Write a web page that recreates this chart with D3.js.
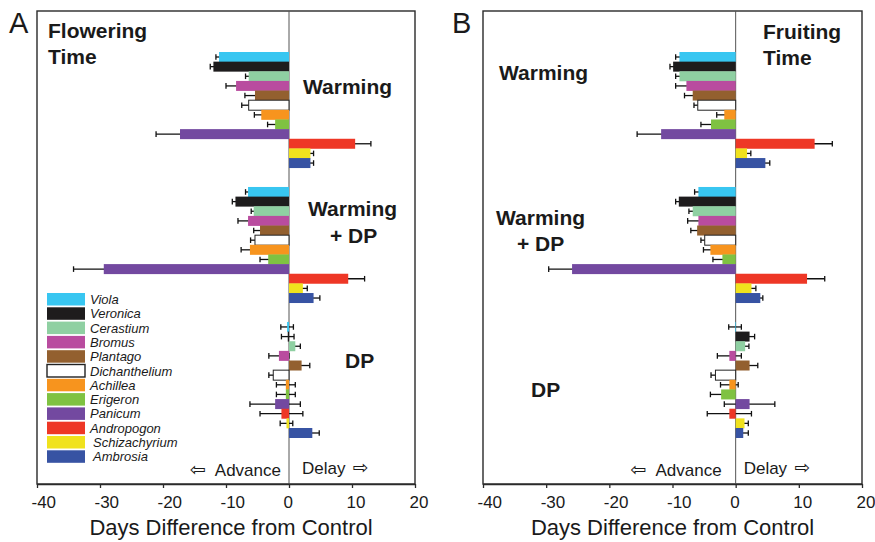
<!DOCTYPE html>
<html>
<head>
<meta charset="utf-8">
<script src="https://cdn.jsdelivr.net/npm/d3@7/dist/d3.min.js"></script>
<style>
  html, body { margin: 0; padding: 0; background: #fff; }
  svg text { font-family: "Liberation Sans", Arial, Helvetica, sans-serif; fill: #1a1a1a; }
</style>
</head>
<body>
<svg id="chart" width="875" height="542"></svg>
<script>
(() => {

// species, in plotting order (top to bottom inside each group)
const species = ["Viola", "Veronica", "Cerastium", "Bromus", "Plantago", "Dichanthelium",
                 "Achillea", "Erigeron", "Panicum", "Andropogon", "Schizachyrium", "Ambrosia"]
const speciesColors = ["#38c6f1", "#1e1c1d", "#8fd0a2", "#b94c9f", "#93602f", "#ffffff",
                       "#f7941e", "#7fc242", "#7349a0", "#ee3726", "#f0e21d", "#3753a3"]

const groups = ["Warming", "Warming + DP", "DP"]
const xTicks = [-40, -30, -20, -10, 0, 10, 20]

// A: flowering time, days difference from control
const flowerWarm    = [-11.1, -12.0, -6.4, -8.4, -5.4, -6.4, -4.4, -2.2, -17.3, 10.5, 3.4, 3.4]
const flowerWarmErr = [0.5, 0.5, 0.5, 1.6, 1.6, 1.1, 1.1, 1.2, 3.8, 2.5, 0.5, 0.5]
const flowerWDP     = [-6.5, -8.5, -5.6, -6.5, -4.6, -5.4, -6.2, -3.3, -29.4, 9.4, 2.2, 3.9]
const flowerWDPErr  = [0.4, 0.5, 0.4, 1.6, 1.0, 0.7, 1.4, 1.3, 4.8, 2.6, 0.7, 1.0]
const flowerDP      = [-0.3, -0.2, 1.0, -1.6, 2.0, -2.5, -0.5, -0.5, -2.2, -1.2, -0.4, 3.7]
const flowerDPErr   = [1.0, 1.0, 0.8, 1.6, 1.3, 0.7, 1.5, 1.5, 4.0, 3.4, 1.0, 1.1]

// B: fruiting time
const fruitWarm    = [-8.9, -9.9, -8.9, -7.8, -6.8, -6.0, -1.8, -3.9, -11.8, 12.5, 1.8, 4.7]
const fruitWarmErr = [0.6, 0.5, 0.6, 1.7, 1.3, 0.6, 1.2, 1.6, 3.8, 2.8, 0.6, 0.7]
const fruitWDP     = [-5.9, -9.0, -6.8, -5.9, -6.1, -4.9, -4.0, -2.1, -25.9, 11.3, 2.5, 3.9]
const fruitWDPErr  = [0.6, 0.5, 0.6, 1.7, 1.0, 0.6, 1.1, 1.5, 3.7, 2.8, 0.7, 0.4]
const fruitDP      = [-0.1, 2.2, 1.5, -1.0, 2.2, -3.2, -1.0, -2.3, 2.2, -1.0, 1.4, 1.2]
const fruitDPErr   = [1.0, 0.8, 0.6, 1.9, 1.3, 0.7, 1.4, 1.7, 4.0, 3.5, 0.6, 0.8]

const svg = d3.select("#chart")

// row index -> y centre (12 rows per group, 2 empty rows between groups)
const y = d3.scaleLinear().domain([0, 39]).range([57, 433])
const barH = 10
const top = 11, bottom = 484

function rows(vals, errs, g) {
    return vals.map((v, i) => ({ v: v, e: errs[i], i: i, row: g * 14 + i }))
}

function panel(cfg) {
    const x = d3.scaleLinear().domain([-40, 20]).range([cfg.left, cfg.right])
    const g = svg.append("g")

    // frame
    g.append("rect")
     .attr("x", cfg.left).attr("y", top)
     .attr("width", cfg.right - cfg.left).attr("height", bottom - top)
     .attr("fill", "none").attr("stroke", "#2a2a2a").attr("stroke-width", 1.4)

    // zero line
    g.append("line")
     .attr("x1", x(0)).attr("x2", x(0)).attr("y1", top).attr("y2", bottom)
     .attr("stroke", "#555").attr("stroke-width", 1)

    const data = [].concat(rows(cfg.warm, cfg.warmErr, 0),
                           rows(cfg.wdp, cfg.wdpErr, 1),
                           rows(cfg.dp, cfg.dpErr, 2))

    // error bars behind the bars
    const err = g.selectAll(".err").data(data).enter().append("g").attr("class", "err")
                 .attr("stroke", "#111").attr("stroke-width", 1.3)
    err.append("line")
       .attr("x1", d => x(d.v - d.e)).attr("x2", d => x(d.v + d.e))
       .attr("y1", d => y(d.row)).attr("y2", d => y(d.row))
    err.append("line")
       .attr("x1", d => x(d.v - d.e)).attr("x2", d => x(d.v - d.e))
       .attr("y1", d => y(d.row) - 2.8).attr("y2", d => y(d.row) + 2.8)
    err.append("line")
       .attr("x1", d => x(d.v + d.e)).attr("x2", d => x(d.v + d.e))
       .attr("y1", d => y(d.row) - 2.8).attr("y2", d => y(d.row) + 2.8)

    g.selectAll(".bar").data(data).enter().append("rect")
     .attr("class", "bar")
     .attr("x", d => Math.min(x(0), x(d.v)))
     .attr("width", d => Math.abs(x(d.v) - x(0)))
     .attr("y", d => y(d.row) - barH / 2)
     .attr("height", barH)
     .attr("fill", d => speciesColors[d.i])
     .attr("stroke", d => species[d.i] == "Dichanthelium" ? "#222" : "none")
     .attr("stroke-width", 1)

    // bottom axis, plain hyphen minus like the original
    const axis = g.append("g")
                  .attr("transform", "translate(0," + bottom + ")")
                  .call(d3.axisBottom(x).tickValues(xTicks).tickSize(4).tickSizeOuter(0)
                          .tickFormat(d => String(d)))
    axis.select(".domain").attr("stroke", "#2a2a2a").attr("stroke-width", 1.4)
    axis.selectAll(".tick line").attr("stroke", "#2a2a2a").attr("stroke-width", 1.3)
    axis.selectAll(".tick text")
        .attr("y", 24).attr("dy", 0).attr("x", -6)
        .attr("text-anchor", "start")
        .attr("font-size", 17)
        .attr("font-family", "Liberation Sans, Arial, sans-serif")
        .attr("fill", "#1a1a1a")

    g.append("text")
     .attr("x", (cfg.left + cfg.right) / 2 + cfg.titleDx).attr("y", 535)
     .attr("text-anchor", "middle").attr("font-size", 22)
     .text("Days Difference from Control")

    // panel letter
    g.append("text").attr("x", cfg.letterX).attr("y", 33)
     .attr("font-size", 29).text(cfg.letter)

    // title
    cfg.title.forEach((t, k) => {
        g.append("text").attr("x", cfg.titleX).attr("y", cfg.titleY + k * 26)
         .attr("font-size", 21).attr("font-weight", "bold").text(t)
    })

    // group labels
    cfg.groupLabels.forEach(lb => {
        g.append("text").attr("x", lb[0]).attr("y", lb[1])
         .attr("font-size", 21).attr("font-weight", "bold").text(lb[2])
    })

    // advance / delay
    const adv = g.append("text").attr("x", x(0) - cfg.advGap).attr("y", 476)
                 .attr("text-anchor", "end").attr("font-size", 17)
    adv.append("tspan").attr("font-family", "DejaVu Sans").attr("font-size", 19).text("\u21E6")
    adv.append("tspan").attr("dx", 9).text("Advance")
    const del = g.append("text").attr("x", x(0) + cfg.delGap).attr("y", 474)
                 .attr("font-size", 17)
    del.append("tspan").text("Delay")
    del.append("tspan").attr("dx", 7).attr("font-family", "DejaVu Sans").attr("font-size", 19).text("\u21E8")
}

panel({
    left: 37, right: 415, letter: "A", letterX: 9,
    title: ["Flowering", "Time"], titleX: 48, titleY: 38, titleDx: 5,
    groupLabels: [[303, 94, "Warming"], [308, 216, "Warming"], [330, 243, "+ DP"], [345, 368, "DP"]],
    advGap: 8, delGap: 13,
    warm: flowerWarm, warmErr: flowerWarmErr,
    wdp: flowerWDP, wdpErr: flowerWDPErr,
    dp: flowerDP, dpErr: flowerDPErr
})

panel({
    left: 483, right: 862, letter: "B", letterX: 452,
    title: ["Fruiting", "Time"], titleX: 763, titleY: 39, titleDx: 0,
    groupLabels: [[499, 80, "Warming"], [496, 225, "Warming"], [517, 251, "+ DP"], [531, 397, "DP"]],
    advGap: 14, delGap: 8,
    warm: fruitWarm, warmErr: fruitWarmErr,
    wdp: fruitWDP, wdpErr: fruitWDPErr,
    dp: fruitDP, dpErr: fruitDPErr
})

// legend (panel A only)
const legend = svg.append("g").selectAll(".leg")
                  .data(species).enter().append("g")
                  .attr("class", "leg")
                  .attr("transform", (d, i) => "translate(47," + (293 + i * 14.3) + ")")
legend.append("rect")
      .attr("width", 38).attr("height", 12.5)
      .attr("fill", (d, i) => speciesColors[i])
      .attr("stroke", d => d == "Dichanthelium" ? "#222" : "none")
      .attr("stroke-width", 1.4)
legend.append("text")
      .attr("x", d => d == "Schizachyrium" || d == "Ambrosia" ? 46 : 43)
      .attr("y", 11)
      .attr("font-size", 13).attr("font-style", "italic")
      .text(d => d)

})();
</script>
</body>
</html>
